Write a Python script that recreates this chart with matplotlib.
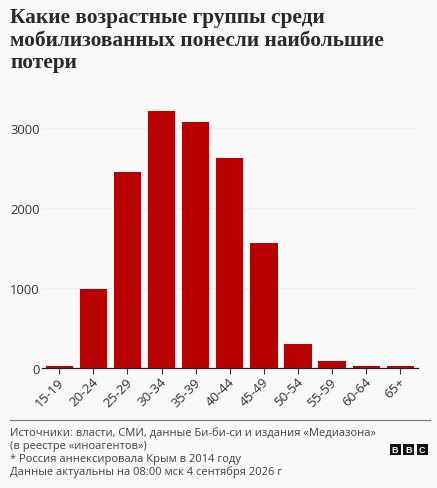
import numpy as np
import matplotlib
matplotlib.use("Agg")
import matplotlib.pyplot as plt
from matplotlib.patches import Rectangle
from matplotlib.transforms import ScaledTranslation

W, H = 437, 489

ages = ['15-19', '20-24', '25-29', '30-34', '35-39', '40-44', '45-49', '50-54', '55-59', '60-64', '65+']
deaths = [30, 990, 2450, 3215, 3070, 2620, 1560, 300, 90, 25, 30]
yticks = [0, 1000, 2000, 3000]

title_lines = ['Какие возрастные группы среди', 'мобилизованных понесли наибольшие', 'потери']
source_lines = ['Источники: власти, СМИ, данные Би-би-си и издания «Медиазона»',
                '(в реестре «иноагентов»)',
                '* Россия аннексировала Крым в 2014 году',
                'Данные актуальны на 08:00 мск 4 сентября 2026 г']

bg = '#f9f9f9'
red = '#b80000'
ink = '#333333'

plt.rcParams['font.family'] = ['Open Sans', 'DejaVu Sans']

fig = plt.figure(figsize=(W / 100, H / 100), dpi=100, facecolor=bg)

# axes placed in pixels: x 42-418, y 0 at 369, 80 px per 1000
left, right, bottom = 42, 418, 369
top = 100
ax = fig.add_axes([left / W, 1 - bottom / H, (right - left) / W, (bottom - top) / H], facecolor=bg)

x = np.arange(len(ages))
ax.bar(x, deaths, width=0.80, color=red, zorder=3)
ax.set_xlim(-0.507, 10.52)
ax.set_ylim(0, (bottom - top) / 0.08)

ax.set_xticks(x)
ax.set_xticklabels(ages, rotation=45, ha='right', rotation_mode='anchor', fontsize=9.6, color=ink)
ax.set_yticks(yticks)
ax.set_yticklabels([str(v) for v in yticks], fontsize=9.4, color=ink)
ax.tick_params(axis='y', length=0, pad=1.5)
ax.tick_params(axis='x', length=4, width=0.8, color=ink, pad=1)
ax.grid(axis='y', color='#eeeeee', lw=0.8, zorder=0)
ax.set_axisbelow(True)
for s in ['top', 'right', 'left']:
    ax.spines[s].set_visible(False)
ax.spines['bottom'].set_color('#222222')
ax.spines['bottom'].set_linewidth(0.9)

# nudge the rotated labels 2 px left
shift = ScaledTranslation(-2 / 100, 0, fig.dpi_scale_trans)
for lab in ax.get_xticklabels():
    lab.set_transform(lab.get_transform() + shift)

# title
for i, line in enumerate(title_lines):
    fig.text(10 / W, 1 - (23.5 + i * 22.5) / H, line, fontsize=15.4, family=['Liberation Serif'],
             fontweight='bold', color='#2a2a2a', va='baseline')

# footer rule
fig.add_artist(plt.Line2D([10 / W, 430 / W], [1 - 420.5 / H] * 2, color='#808080', lw=0.9))

# sources
for i, line in enumerate(source_lines):
    fig.text(10 / W, 1 - (436 + i * 13) / H, line, fontsize=8.0, color='#404040', va='baseline')

# BBC blocks
for i, letter in enumerate('BBC'):
    x0 = 389.5 + i * 13.5
    fig.add_artist(Rectangle((x0 / W, 1 - 456 / H), 11 / W, 11 / H, transform=fig.transFigure,
                             color='#111111', lw=0))
    fig.text((x0 + 5.5) / W, 1 - 450.5 / H, letter, fontsize=6.5, color='white', fontweight='bold',
             ha='center', va='center', family=['Liberation Sans'])

fig.savefig('out.png', dpi=100, facecolor=bg)
